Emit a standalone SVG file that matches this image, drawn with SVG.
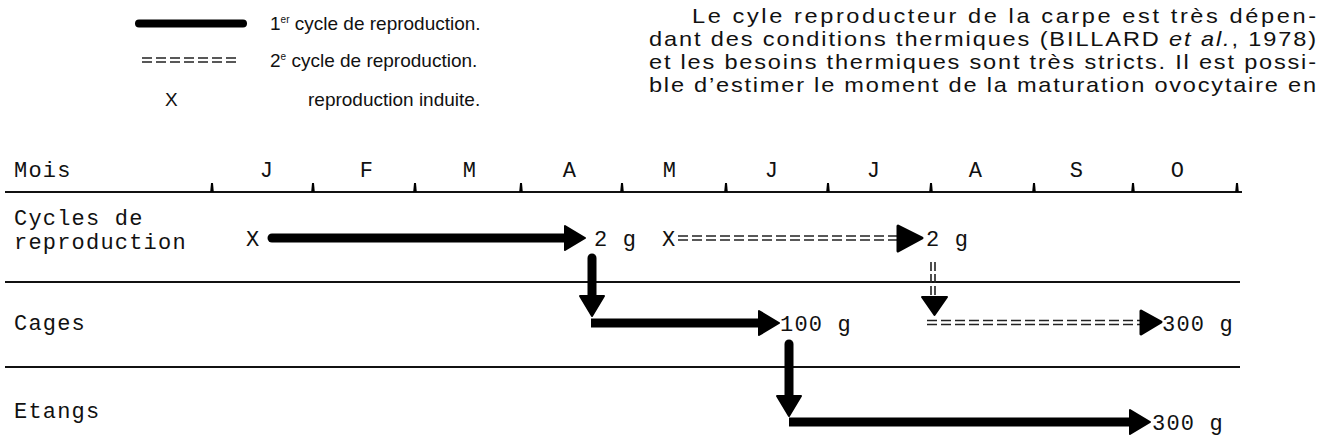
<svg xmlns="http://www.w3.org/2000/svg" width="1331" height="446" viewBox="0 0 1331 446">
<style>
.para{font-family:"Liberation Sans",Arial,sans-serif;font-size:20.5px;fill:#111}
.leg{font-family:"Liberation Sans",Arial,sans-serif;font-size:19px;fill:#111}
.mono{font-family:"Liberation Mono","DejaVu Sans Mono",monospace;font-size:22px;letter-spacing:1.2px;fill:#111}
.sep{stroke:#111;stroke-width:2;fill:none}
.thick{stroke:#000;stroke-width:9;fill:none}
.dbl{stroke:#222;stroke-width:1.6;stroke-dasharray:10 4;fill:none}
.tick{fill:#000}
</style>
<defs>
<marker id="head" markerUnits="userSpaceOnUse" viewBox="0 -14 24 28" refX="1" refY="0" markerWidth="24" markerHeight="28" orient="auto" overflow="visible">
<path d="M0,-12 L20,0 L0,12 Z" fill="#000" stroke="#000" stroke-width="2" stroke-linejoin="round"/>
</marker>
<path id="tk" d="M-1.8,0 L-1,-9 L1,-9 L1.8,0 Z"/>
</defs>

<g id="legend">
<rect x="135" y="19.5" width="112" height="8" rx="4" fill="#000"/>
<text class="leg" x="270" y="30">1<tspan font-size="10" dy="-7">er</tspan><tspan dy="7"> cycle de reproduction.</tspan></text>
<g class="dbl" stroke-dasharray="9.25 3"><line x1="142" y1="58" x2="240" y2="58"/><line x1="142" y1="62" x2="240" y2="62"/></g>
<text class="leg" x="270" y="67">2<tspan font-size="10" dy="-7">e</tspan><tspan dy="7"> cycle de reproduction.</tspan></text>
<text class="leg" x="165" y="106">X</text>
<text class="leg" x="308" y="106">reproduction induite.</text>
</g>

<g id="paragraph" transform="translate(649,0) scale(1.15,1)">
<text class="para" x="37.4" y="23" textLength="542.6" lengthAdjust="spacing">Le cyle reproducteur de la carpe est très dépen-</text>
<text class="para" x="0" y="46" textLength="580" lengthAdjust="spacing">dant des conditions thermiques (BILLARD <tspan font-style="italic">et al.</tspan>, 1978)</text>
<text class="para" x="0" y="69" textLength="580" lengthAdjust="spacing">et les besoins thermiques sont très stricts. Il est possi-</text>
<text class="para" x="0" y="92" textLength="580" lengthAdjust="spacing">ble d’estimer le moment de la maturation ovocytaire en</text>
</g>

<g id="timeline">
<text class="mono" x="14" y="177">Mois</text>
<line class="sep" x1="5" y1="192" x2="1242" y2="192"/>
<g class="tick">
<use href="#tk" x="212" y="192"/><use href="#tk" x="313" y="192"/><use href="#tk" x="415" y="192"/>
<use href="#tk" x="521" y="192"/><use href="#tk" x="622" y="192"/><use href="#tk" x="726" y="192"/>
<use href="#tk" x="828" y="192"/><use href="#tk" x="931" y="192"/><use href="#tk" x="1034" y="192"/>
<use href="#tk" x="1133" y="192"/><use href="#tk" x="1237" y="192"/>
</g>
<g class="mono" text-anchor="middle">
<text x="267" y="177">J</text><text x="367" y="177">F</text><text x="470" y="177">M</text>
<text x="570" y="177">A</text><text x="670" y="177">M</text><text x="772" y="177">J</text>
<text x="874" y="177">J</text><text x="976" y="177">A</text><text x="1077" y="177">S</text>
<text x="1178" y="177">O</text>
</g>
</g>

<g id="row-cycles">
<text class="mono" x="14" y="225">Cycles de</text>
<text class="mono" x="14" y="249">reproduction</text>
<text class="mono" x="246" y="246">X</text>
<text class="mono" x="594" y="246">2 g</text>
<text class="mono" x="662" y="246">X</text>
<text class="mono" x="926" y="246">2 g</text>
</g>
<line id="sep1" class="sep" x1="5" y1="282" x2="1240" y2="282"/>

<g id="row-cages">
<text class="mono" x="14" y="330">Cages</text>
<text class="mono" x="780" y="331">100 g</text>
<text class="mono" x="1162" y="331">300 g</text>
</g>
<line id="sep2" class="sep" x1="5" y1="367" x2="1240" y2="367"/>

<g id="row-etangs">
<text class="mono" x="14" y="418">Etangs</text>
<text class="mono" x="1152" y="430">300 g</text>
</g>

<g id="connectors">
<line class="thick" x1="272" y1="238" x2="566" y2="238" marker-end="url(#head)" stroke-linecap="round"/>
<g class="dbl"><line x1="678" y1="236" x2="898" y2="236"/><line x1="678" y1="240" x2="898" y2="240"/></g>
<path d="M898,226 L922,238 L898,251 Z" fill="#000" stroke="#000" stroke-width="3" stroke-linejoin="round"/>
<line class="thick" x1="592" y1="258" x2="592" y2="297" marker-end="url(#head)" stroke-linecap="round" stroke-width="8"/>
<line class="thick" x1="591" y1="323" x2="760" y2="323" marker-end="url(#head)"/>
<g stroke="#222" stroke-width="1.6" stroke-dasharray="9 3"><line x1="931" y1="262" x2="931" y2="299"/><line x1="935" y1="262" x2="935" y2="299"/></g>
<path d="M922,297 L947,297 L934.5,315 Z" fill="#000" stroke="#000" stroke-width="2" stroke-linejoin="round"/>
<g class="dbl"><line x1="927" y1="320.5" x2="1140" y2="320.5"/><line x1="927" y1="324.5" x2="1140" y2="324.5"/></g>
<path d="M1141,311 L1161,322 L1141,334 Z" fill="#000" stroke="#000" stroke-width="3" stroke-linejoin="round"/>
<line class="thick" x1="789" y1="344" x2="789" y2="397" marker-end="url(#head)" stroke-linecap="round" stroke-width="8"/>
<line class="thick" x1="789" y1="422" x2="1131" y2="422" marker-end="url(#head)"/>
</g>
</svg>
